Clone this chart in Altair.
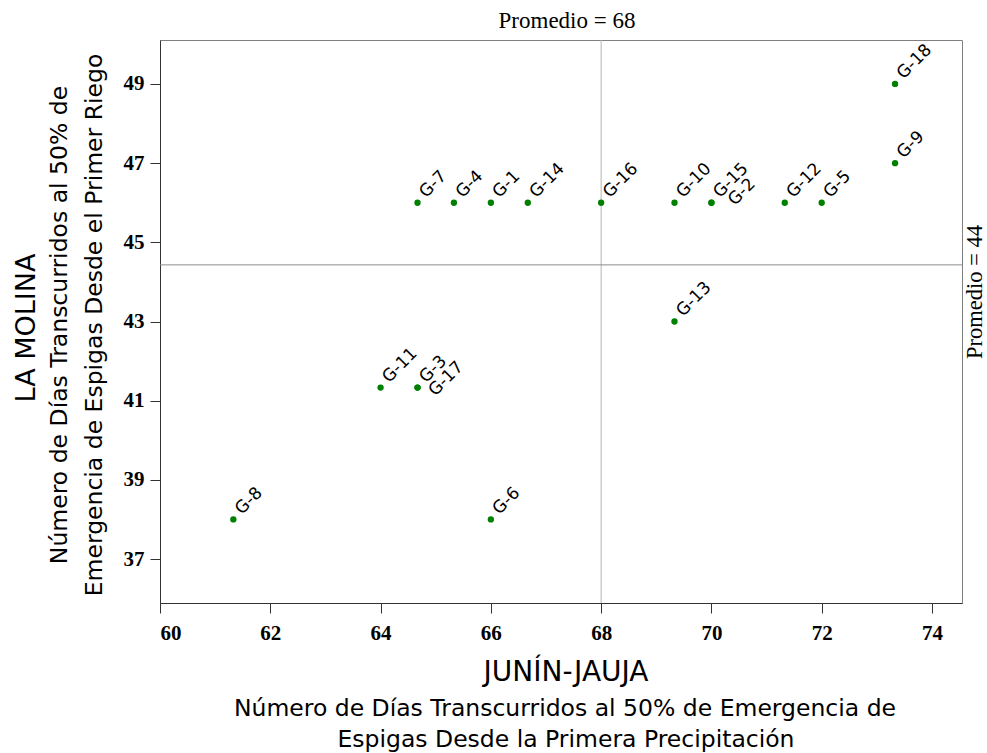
import altair as alt
import pandas as pd

# ---- data ----
genotipos = ["G-1", "G-2", "G-3", "G-4", "G-5", "G-6", "G-7", "G-8", "G-9",
             "G-10", "G-11", "G-12", "G-13", "G-14", "G-15", "G-16", "G-17", "G-18"]
junin_jauja = [66, 70, 64.67, 65.33, 72, 66, 64.67, 61.33, 73.33,
               69.33, 64, 71.33, 69.33, 66.67, 70, 68, 64.67, 73.33]
la_molina = [46, 46, 41.33, 46, 46, 38, 46, 38, 47,
             46, 41.33, 46, 43, 46, 46, 46, 41.33, 49]

promedio_x = [68]
promedio_y = [44.43]
x_ticks = [60, 62, 64, 66, 68, 70, 72, 74]
y_ticks = [37, 39, 41, 43, 45, 47, 49]

x_title = "JUNÍN-JAUJA"
x_sub = ["Número de Días Transcurridos al 50% de Emergencia de",
         "Espigas Desde la Primera Precipitación"]
y_title = "LA MOLINA"
y_sub = ["Número de Días Transcurridos al 50% de",
         "Emergencia de Espigas Desde el Primer Riego"]
prom_x_label = "Promedio = 68"
prom_y_label = "Promedio = 44"

df = pd.DataFrame({"g": genotipos, "x": junin_jauja, "y": la_molina})

W, H = 802, 563
xscale = alt.Scale(domain=[60, 74.544], nice=False, zero=False)
yscale = alt.Scale(domain=[35.89, 50.11], nice=False, zero=False)

xaxis = alt.Axis(values=x_ticks, title=None, grid=False, tickSize=10,
                 labelPadding=9, labelFontSize=21, labelFont="Liberation Serif",
                 labelFontWeight="bold", labelColor="black", domainColor="#333333",
                 tickColor="#333333", format="d")
yaxis = alt.Axis(values=y_ticks, title=None, grid=False, tickSize=10,
                 labelPadding=6, labelFontSize=21, labelFont="Liberation Serif",
                 labelFontWeight="bold", labelColor="black", domainColor="#333333",
                 tickColor="#333333", format="d")

base = alt.Chart(df)

points = base.mark_circle(size=40, color="#008000", opacity=1).encode(
    x=alt.X("x:Q", scale=xscale, axis=xaxis),
    y=alt.Y("y:Q", scale=yscale, axis=yaxis),
)

lbl_kw = dict(font="DejaVu Sans", fontSize=17, angle=315, align="left",
              baseline="middle", color="black")
labels_main = base.transform_filter(
    "datum.g != 'G-2' && datum.g != 'G-17'"
).mark_text(dx=9, dy=-2, **lbl_kw).encode(x="x:Q", y="y:Q", text="g:N")
label_g2 = base.transform_filter("datum.g == 'G-2'").mark_text(
    dx=14, dy=14, **lbl_kw).encode(x="x:Q", y="y:Q", text="g:N")
label_g17 = base.transform_filter("datum.g == 'G-17'").mark_text(
    dx=6, dy=14, **lbl_kw).encode(x="x:Q", y="y:Q", text="g:N")

vline = alt.Chart(pd.DataFrame({"x": promedio_x})).mark_rule(
    color="#b4b4b4", strokeWidth=1).encode(x="x:Q")
hline = alt.Chart(pd.DataFrame({"y": promedio_y})).mark_rule(
    color="#8c8c8c", strokeWidth=1).encode(y="y:Q")


def note(text, x, y, size, font, angle=0):
    return alt.Chart(pd.DataFrame({"t": [text]})).mark_text(
        font=font, fontSize=size, angle=angle, align="center",
        baseline="middle", color="black"
    ).encode(x=alt.value(x), y=alt.value(y), text="t:N")


notes = [
    note(x_title, 406, 633, 28, "DejaVu Sans"),
    note(x_sub[0], 405, 669, 23.5, "DejaVu Sans"),
    note(x_sub[1], 406, 700, 23.5, "DejaVu Sans"),
    note(y_title, -133, 288, 27, "DejaVu Sans", 270),
    note(y_sub[0], -100, 285, 23.5, "DejaVu Sans", 270),
    note(y_sub[1], -65, 285, 23.5, "DejaVu Sans", 270),
    note(prom_x_label, 407, -19, 23, "Liberation Serif"),
    note(prom_y_label, 815, 252, 22.5, "Liberation Serif", 270),
]

chart = alt.layer(vline, hline, points, labels_main, label_g2, label_g17, *notes).properties(
    width=W, height=H,
    autosize=alt.AutoSizeParams(type="none"),
    padding={"left": 160, "top": 40, "right": 25, "bottom": 150},
    background="white",
).configure_view(stroke="#808080", strokeWidth=1)

chart.save("out.html", embed_options={"renderer": "svg", "actions": False})
